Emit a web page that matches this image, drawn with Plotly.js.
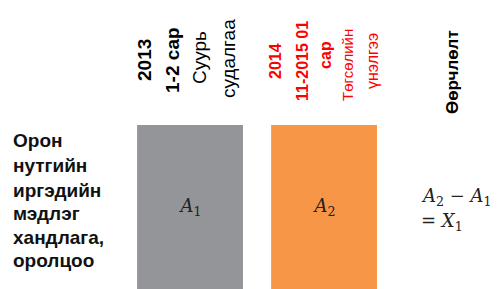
<!DOCTYPE html>
<html>
<head>
<meta charset="utf-8">
<script src="https://cdn.plot.ly/plotly-3.0.1.min.js"></script>
<style>html,body{margin:0;padding:0;background:#fff;}#chart{width:500px;height:289px;}</style>
</head>
<body>
<div id="chart"></div>
<script>
// ---- data ----
const categories = ["2013 1-2 сар Суурь судалгаа", "2014 11-2015 01 сар Төгсөлийн үнэлгээ"];
const values = [1, 1];
const barLabels = ["<i>A</i><sub>1</sub>", "<i>A</i><sub>2</sub>"];
const header1 = ["2013", "1-2 сар", "Суурь", "судалгаа"];
const header2 = ["2014", "11-2015 01", "сар", "Төгсөлийн", "үнэлгээ"];
const header3 = ["Өөрчлөлт"];
const rowLabel = ["Орон", "нутгийн", "иргэдийн", "мэдлэг", "хандлага,", "оролцоо"];
const formula = ["<i>A</i><sub>2</sub> − <i>A</i><sub>1</sub>", "= <i>X</i><sub>1</sub>"];

// ---- styling / layout ----
const W = 500, H = 289;
const px = v => v / W;
const py = v => 1 - v / H;
const SANS = "Liberation Sans, Arial, sans-serif";
const SERIF = "DejaVu Serif, Liberation Serif, serif";
const barColors = ["#939598", "#F79646"];

const annotations = [];
function rot(text, x, y, size, color, bold) {
  annotations.push({
    text: bold ? "<b>" + text + "</b>" : text,
    x: px(x), y: py(y), xref: "paper", yref: "paper",
    xanchor: "center", yanchor: "middle", showarrow: false,
    textangle: -90, font: {family: SANS, size: size, color: color}
  });
}
// column 1 header
const c1x = [145, 173, 200, 228], c1y = [60, 60, 58, 59];
header1.forEach((t, i) => rot(t, c1x[i], c1y[i], 19, "#000", i < 2));
// column 2 header
const c2x = [275, 302, 325, 347, 372], c2y = [61, 61, 55, 65, 61];
const c2s = [16, 16, 16, 15, 16];
header2.forEach((t, i) => rot(t, c2x[i], c2y[i], c2s[i], "#FF0000", i < 3));
// column 3 header
rot(header3[0], 452, 72, 17, "#000", true);

// row label
const ry = [140, 165, 190, 213, 237, 260];
rowLabel.forEach((t, i) => annotations.push({
  text: "<b>" + t + "</b>", x: px(11), y: py(ry[i]), xref: "paper", yref: "paper",
  xanchor: "left", yanchor: "middle", showarrow: false,
  font: {family: SANS, size: 19, color: "#111"}
}));
// formula
const fy = [197, 222];
formula.forEach((t, i) => annotations.push({
  text: t, x: px(419), y: py(fy[i]), xref: "paper", yref: "paper",
  xanchor: "left", yanchor: "middle", showarrow: false,
  font: {family: SERIF, size: 18, color: "#222"}
}));

const trace = {
  type: "bar",
  x: categories,
  y: values,
  width: 0.79,
  marker: {color: barColors, line: {width: 0}},
  text: barLabels,
  textposition: "inside",
  insidetextanchor: "middle",
  textfont: {family: SERIF, size: 18, color: "#222"},
  hoverinfo: "none"
};

const layout = {
  width: W, height: H,
  margin: {l: 0, r: 0, t: 0, b: 0, pad: 0},
  paper_bgcolor: "#fff", plot_bgcolor: "#fff",
  showlegend: false,
  xaxis: {type: "category", range: [-1.418, 2.313], visible: false, fixedrange: true},
  yaxis: {range: [0, 1.762], visible: false, fixedrange: true},
  annotations: annotations
};

Plotly.newPlot("chart", [trace], layout, {staticPlot: true, displayModeBar: false});
</script>
</body>
</html>
